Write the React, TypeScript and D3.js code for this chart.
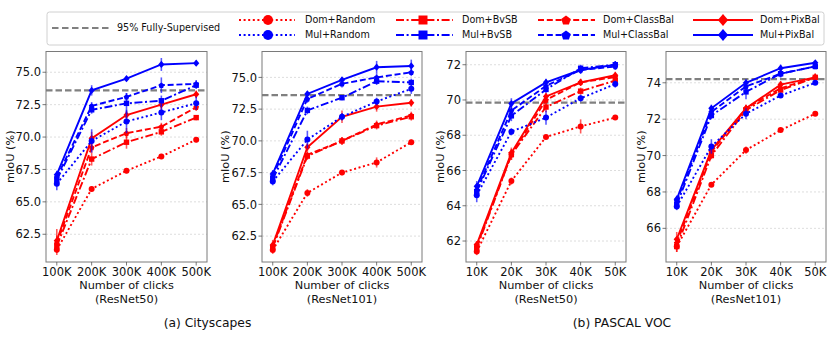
import React from "react";
import * as d3 from "d3";

// ---------- DATA ----------
const xCity = [100, 200, 300, 400, 500];
const xVoc = [10, 20, 30, 40, 50];

const seriesNames = [
  "Dom+Random", "Dom+BvSB", "Dom+ClassBal", "Dom+PixBal",
  "Mul+Random", "Mul+BvSB", "Mul+ClassBal", "Mul+PixBal",
];

// Cityscapes ResNet50
const city50Values = [
  [61.3, 66.0, 67.4, 68.5, 69.8],
  [61.6, 68.3, 69.6, 70.4, 71.5],
  [61.8, 69.2, 70.3, 70.8, 72.3],
  [62.0, 69.9, 71.7, 72.5, 73.3],
  [66.4, 69.7, 71.2, 71.9, 72.6],
  [66.7, 72.1, 72.6, 72.8, 74.0],
  [66.9, 72.4, 73.1, 74.0, 74.1],
  [67.1, 73.6, 74.5, 75.6, 75.7],
];
const city50Err = [
  [0.4, 0.2, 0.2, 0.2, 0.2],
  [0.5, 0.5, 0.5, 0.3, 0.2],
  [0.6, 0.4, 0.4, 0.3, 0.3],
  [0.9, 0.5, 0.3, 0.4, 0.3],
  [0.5, 0.9, 0.9, 0.6, 0.5],
  [0.3, 0.3, 0.8, 0.4, 0.3],
  [0.3, 0.3, 0.3, 0.6, 0.3],
  [0.3, 0.4, 0.2, 0.5, 0.2],
];

// Cityscapes ResNet101
const city101Values = [
  [61.4, 65.9, 67.5, 68.3, 69.9],
  [61.6, 68.8, 70.0, 71.2, 71.9],
  [61.7, 68.9, 70.0, 71.3, 72.0],
  [61.8, 69.5, 71.9, 72.7, 73.0],
  [66.8, 70.1, 71.9, 73.1, 74.1],
  [67.0, 72.4, 73.4, 74.7, 74.6],
  [67.2, 73.3, 74.5, 75.0, 75.4],
  [67.4, 73.7, 74.8, 75.8, 75.9],
];
const city101Err = [
  [0.3, 0.3, 0.2, 0.4, 0.2],
  [0.3, 0.3, 0.3, 0.3, 0.3],
  [0.3, 0.3, 0.3, 0.3, 0.3],
  [0.4, 0.3, 0.5, 0.4, 0.3],
  [0.3, 0.7, 0.3, 0.3, 0.4],
  [0.3, 0.3, 0.2, 0.3, 0.3],
  [0.3, 0.3, 0.3, 0.3, 0.3],
  [0.3, 0.2, 0.2, 0.5, 0.5],
];

// PASCAL VOC ResNet50
const voc50Values = [
  [61.4, 65.4, 67.9, 68.5, 69.0],
  [61.6, 66.9, 69.6, 70.5, 71.1],
  [61.7, 66.9, 70.0, 71.0, 71.3],
  [61.8, 67.0, 70.2, 71.0, 71.4],
  [64.6, 68.2, 69.0, 70.1, 70.9],
  [64.8, 69.1, 70.6, 71.8, 72.0],
  [64.9, 69.4, 70.8, 71.7, 71.9],
  [65.1, 69.8, 71.0, 71.7, 72.0],
];
const voc50Err = [
  [0.2, 0.2, 0.1, 0.4, 0.1],
  [0.2, 0.3, 0.3, 0.2, 0.2],
  [0.2, 0.3, 0.3, 0.2, 0.2],
  [0.2, 0.3, 0.2, 0.2, 0.2],
  [0.4, 0.2, 0.4, 0.2, 0.2],
  [0.3, 0.3, 0.2, 0.2, 0.2],
  [0.3, 0.3, 0.2, 0.2, 0.2],
  [0.3, 0.3, 0.2, 0.2, 0.2],
];

// PASCAL VOC ResNet101
const voc101Values = [
  [65.0, 68.4, 70.3, 71.4, 72.3],
  [65.0, 70.0, 72.5, 73.6, 74.3],
  [65.2, 70.2, 72.6, 73.7, 74.3],
  [65.4, 70.3, 72.6, 73.9, 74.3],
  [67.2, 70.5, 72.3, 73.3, 74.0],
  [67.3, 72.2, 73.5, 74.5, 74.9],
  [67.5, 72.4, 73.8, 74.5, 74.9],
  [67.6, 72.6, 74.0, 74.8, 75.1],
];
const voc101Err = [
  [0.3, 0.1, 0.2, 0.1, 0.1],
  [0.3, 0.2, 0.2, 0.2, 0.2],
  [0.3, 0.2, 0.2, 0.2, 0.2],
  [0.4, 0.2, 0.2, 0.2, 0.2],
  [0.2, 0.4, 0.3, 0.1, 0.1],
  [0.2, 0.2, 0.4, 0.2, 0.1],
  [0.2, 0.2, 0.2, 0.2, 0.1],
  [0.2, 0.2, 0.2, 0.2, 0.1],
];

const fullySupervised = [73.6, 73.6, 69.85, 74.2];
const yTicksCity = [62.5, 65.0, 67.5, 70.0, 72.5, 75.0];
const yTicksVoc50 = [62, 64, 66, 68, 70, 72];
const yTicksVoc101 = [66, 68, 70, 72, 74];
const backbones = ["(ResNet50)", "(ResNet101)", "(ResNet50)", "(ResNet101)"];
const captions = ["(a) Cityscapes", "(b) PASCAL VOC"];

// ---------- STYLE ----------
const FONT = "DejaVu Sans";
const RED = "#ff0000";
const BLUE = "#0000ff";
const dashFor: Record<string, string> = {
  Random: "2,2.6",
  BvSB: "8,2.6,2,2.6",
  ClassBal: "6,2.8",
  PixBal: "",
};
const markerFor: Record<string, string> = {
  Random: "circle",
  BvSB: "square",
  ClassBal: "pentagon",
  PixBal: "diamond",
};

function markerPath(kind: string, s: number): string {
  const r = s / 2;
  if (kind === "circle") {
    return `M${r},0A${r},${r} 0 1,1 ${-r},0A${r},${r} 0 1,1 ${r},0Z`;
  }
  if (kind === "square") {
    const h = r * 0.9;
    return `M${-h},${-h}L${h},${-h}L${h},${h}L${-h},${h}Z`;
  }
  if (kind === "pentagon") {
    const pts = d3.range(5).map((i) => {
      const a = -Math.PI / 2 + (i * 2 * Math.PI) / 5;
      return [r * Math.cos(a), r * Math.sin(a) + r * 0.1];
    });
    return "M" + pts.map((p) => p.join(",")).join("L") + "Z";
  }
  const d = r * 1.1;
  return `M0,${-d}L${d * 0.85},0L0,${d}L${-d * 0.85},0Z`;
}

type Panel = {
  left: number; right: number; top: number; bottom: number;
  xs: number[]; xPad: number; ydom: [number, number]; yticks: number[];
  fmt: (v: number) => string; values: number[][]; errs: number[][];
  fs: number; label: string; ylabOff: number;
};

const panels: Panel[] = [
  { left: 46, right: 207, top: 51.5, bottom: 262, xs: xCity, xPad: 31, ydom: [60.36, 76.6], yticks: yTicksCity, fmt: d3.format(".1f"), values: city50Values, errs: city50Err, fs: fullySupervised[0], label: backbones[0], ylabOff: 36 },
  { left: 262, right: 422, top: 51.5, bottom: 262, xs: xCity, xPad: 31, ydom: [60.46, 77.04], yticks: yTicksCity, fmt: d3.format(".1f"), values: city101Values, errs: city101Err, fs: fullySupervised[1], label: backbones[1], ylabOff: 37 },
  { left: 466, right: 626, top: 51.5, bottom: 262, xs: xVoc, xPad: 3.1, ydom: [60.81, 72.75], yticks: yTicksVoc50, fmt: d3.format("d"), values: voc50Values, errs: voc50Err, fs: fullySupervised[2], label: backbones[2], ylabOff: 26 },
  { left: 666, right: 826, top: 51.5, bottom: 262, xs: xVoc, xPad: 3.1, ydom: [64.15, 75.72], yticks: yTicksVoc101, fmt: d3.format("d"), values: voc101Values, errs: voc101Err, fs: fullySupervised[3], label: backbones[3], ylabOff: 25 },
];

function PanelView({ p }: { p: Panel }) {
  const x = d3.scaleLinear()
    .domain([p.xs[0] - p.xPad, p.xs[p.xs.length - 1] + p.xPad])
    .range([p.left, p.right]);
  const y = d3.scaleLinear().domain(p.ydom).range([p.bottom, p.top]);
  const line = d3.line<number>().x((_, i) => x(p.xs[i])).y((v) => y(v));
  const cx = (p.left + p.right) / 2;
  const cy = (p.top + p.bottom) / 2;
  const tickFs = 11.5;
  return (
    <g>
      {p.yticks.map((t) => (
        <line key={"g" + t} x1={p.left} x2={p.right} y1={y(t)} y2={y(t)}
          stroke="#d4d4d4" strokeWidth={0.8} strokeDasharray="2,2" />
      ))}
      <line x1={p.left} x2={p.right} y1={y(p.fs)} y2={y(p.fs)}
        stroke="#808080" strokeWidth={2.2} strokeDasharray="6.5,3" />
      {p.values.map((vals, si) => {
        const name = seriesNames[si];
        const method = name.split("+")[1];
        const color = name.startsWith("Dom") ? RED : BLUE;
        return (
          <g key={name}>
            <path d={line(vals) || ""} fill="none" stroke={color} strokeWidth={1.9}
              strokeDasharray={dashFor[method]} />
            {vals.map((v, i) => (
              <line key={"e" + i} x1={x(p.xs[i])} x2={x(p.xs[i])}
                y1={y(v - p.errs[si][i])} y2={y(v + p.errs[si][i])}
                stroke={color} strokeOpacity={0.65} strokeWidth={1.6} />
            ))}
            {vals.map((v, i) => (
              <path key={"m" + i} transform={`translate(${x(p.xs[i])},${y(v)})`}
                d={markerPath(markerFor[method], method === "PixBal" ? 6.6 : 6.0)} fill={color} />
            ))}
          </g>
        );
      })}
      <rect x={p.left} y={p.top} width={p.right - p.left} height={p.bottom - p.top}
        fill="none" stroke="#7a7a7a" strokeWidth={1} />
      {p.yticks.map((t) => (
        <g key={"yt" + t}>
          <line x1={p.left - 3.5} x2={p.left} y1={y(t)} y2={y(t)} stroke="#555" strokeWidth={0.8} />
          <text x={p.left - 5} y={y(t)} dy="0.36em" textAnchor="end" fontSize={tickFs}
            fontFamily={FONT} fill="#111">{p.fmt(t)}</text>
        </g>
      ))}
      {p.xs.map((t) => (
        <g key={"xt" + t}>
          <line x1={x(t)} x2={x(t)} y1={p.bottom} y2={p.bottom + 3.5} stroke="#555" strokeWidth={0.8} />
          <text x={x(t)} y={p.bottom + 13.5} textAnchor="middle" fontSize={tickFs}
            fontFamily={FONT} fill="#111">{t + "K"}</text>
        </g>
      ))}
      <text x={cx} y={289} textAnchor="middle" fontSize={11.3} fontFamily={FONT} fill="#111">Number of clicks</text>
      <text x={cx} y={303} textAnchor="middle" fontSize={11.3} fontFamily={FONT} fill="#111">{p.label}</text>
      <text transform={`translate(${p.left - p.ylabOff},${cy}) rotate(-90)`} dy="0.36em"
        textAnchor="middle" fontSize={11.3} fontFamily={FONT} fill="#111">mIoU (%)</text>
    </g>
  );
}

function Legend() {
  const r1 = 20, r2 = 35;
  const cols = [
    { method: "Random", x0: 239, x1: 295, mx: 268, tx: 305 },
    { method: "BvSB", x0: 396, x1: 453, mx: 423, tx: 462 },
    { method: "ClassBal", x0: 538, x1: 595, mx: 566, tx: 603 },
    { method: "PixBal", x0: 693, x1: 753, mx: 723, tx: 760 },
  ];
  const fs = 9.6;
  return (
    <g>
      <rect x={47} y={12} width={777} height={33} rx={2.5} fill="white" stroke="#d0d0d0" strokeWidth={1} />
      <line x1={52} x2={110} y1={28} y2={28} stroke="#808080" strokeWidth={2.2} strokeDasharray="6.5,3.5" />
      <text x={117} y={28} dy="0.36em" fontSize={fs} fontFamily={FONT} fill="#111">95% Fully-Supervised</text>
      {cols.map((c) => (
        <g key={c.method}>
          {[["Dom", RED, r1], ["Mul", BLUE, r2]].map(([pre, col, ry]) => (
            <g key={pre as string}>
              <line x1={c.x0} x2={c.x1} y1={ry as number} y2={ry as number} stroke={col as string}
                strokeWidth={2.2} strokeDasharray={dashFor[c.method]} />
              <path transform={`translate(${c.mx},${ry})`} d={markerPath(markerFor[c.method], c.method === "PixBal" ? 11 : 10)}
                fill={col as string} />
              <text x={c.tx} y={ry as number} dy="0.36em" fontSize={fs} fontFamily={FONT} fill="#111">
                {`${pre}+${c.method}`}
              </text>
            </g>
          ))}
        </g>
      ))}
    </g>
  );
}

export default function App() {
  return (
    <svg width={831} height={345} viewBox="0 0 831 345"
      style={{ position: "absolute", left: 0, top: 0, background: "white", display: "block" }}>
      <rect width={831} height={345} fill="white" />
      <Legend />
      {panels.map((p, i) => <PanelView key={i} p={p} />)}
      <text x={207.5} y={327} textAnchor="middle" fontSize={12.3} fontFamily={FONT} fill="#111">{captions[0]}</text>
      <text x={622} y={327} textAnchor="middle" fontSize={12.3} fontFamily={FONT} fill="#111">{captions[1]}</text>
    </svg>
  );
}
